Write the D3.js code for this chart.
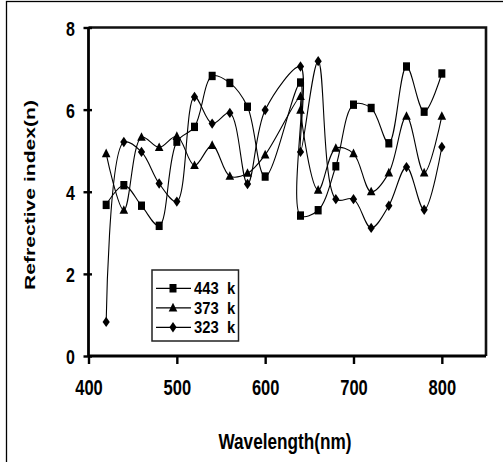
<!DOCTYPE html>
<html>
<head>
<meta charset="utf-8">
<script src="https://cdn.jsdelivr.net/npm/d3@7"></script>
<style>
  html, body { margin: 0; padding: 0; background: #fff; }
  svg { display: block; }
  text { font-family: "Liberation Sans", Arial, sans-serif; font-weight: bold; fill: #000; }
  .legend-label { white-space: pre; }
</style>
</head>
<body>
<svg id="chart" width="503" height="462"></svg>
<script>
// Wavelength (nm) of each measurement; 640 nm is measured twice
const wavelength = [420, 440, 460, 480, 500, 520, 540, 560, 580, 600, 640, 640, 660, 680, 700, 720, 740, 760, 780, 800];
// Refractive index at each annealing temperature
const n443 = [3.68, 4.16, 3.66, 3.17, 5.22, 5.58, 6.82, 6.65, 6.07, 4.37, 6.66, 3.42, 3.55, 4.62, 6.12, 6.04, 5.18, 7.05, 5.95, 6.88];
const n373 = [4.93, 3.55, 5.33, 5.08, 5.35, 4.64, 5.13, 4.38, 4.45, 4.90, 6.32, 5.99, 4.04, 5.06, 4.93, 4.00, 4.46, 5.84, 4.46, 5.84];
const n323 = [0.83, 5.21, 4.97, 4.20, 3.76, 6.31, 5.66, 5.92, 4.19, 5.99, 7.05, 4.97, 7.18, 3.82, 3.82, 3.12, 3.66, 4.60, 3.56, 5.09];
const seriesNames = ["443  k", "373  k", "323  k"];
const xTicks = [400, 500, 600, 700, 800];
const yTicks = [0, 2, 4, 6, 8];

const svg = d3.select("#chart");
const SY = 1.32; // vertical stretch applied to horizontal text

// outer frame
svg.append("rect").attr("x", 6.5).attr("y", 1.5).attr("width", 600).attr("height", 600)
  .attr("fill", "none").attr("stroke", "#000").attr("stroke-width", 1.3);

const L = 88.5, R = 486, T = 27.5, B = 356;
const x = d3.scaleLinear().domain([400, 850]).range([L, R]);
const y = d3.scaleLinear().domain([0, 8]).range([B, T]);

// plot frame (top and right edges)
svg.append("path")
  .attr("d", `M${L},${T}H${R}V${B}`)
  .attr("fill", "none").attr("stroke", "#111").attr("stroke-width", 2.6);

// x axis
const gx = svg.append("g").attr("transform", `translate(0,${B})`)
  .call(d3.axisBottom(x).tickValues(xTicks).tickSize(8).tickFormat(d3.format("d")));
gx.select(".domain").attr("stroke", "#000").attr("stroke-width", 2.8).attr("d", `M${L},0H${R}`);
gx.selectAll(".tick line").attr("stroke", "#000").attr("stroke-width", 2.4);
gx.selectAll(".tick text")
  .attr("y", null).attr("dy", null)
  .attr("transform", `translate(0,39) scale(1,${SY})`)
  .attr("font-size", 16.5).attr("text-anchor", "middle");

// y axis with ticks crossing the axis line
const gy = svg.append("g").attr("transform", `translate(${L},0)`)
  .call(d3.axisLeft(y).tickValues(yTicks).tickSize(5).tickFormat(d3.format("d")));
gy.select(".domain").attr("stroke", "#000").attr("stroke-width", 2.8).attr("d", `M0,${T}V${B}`);
gy.selectAll(".tick line").attr("x1", 3.5).attr("stroke", "#000").attr("stroke-width", 2.4);
gy.selectAll(".tick text")
  .attr("x", null).attr("dy", null)
  .attr("transform", `translate(-13.5,7.5) scale(1,${SY - 0.08})`)
  .attr("font-size", 16).attr("text-anchor", "end");

// axis titles
svg.append("text").text("Wavelength(nm)")
  .attr("transform", `translate(285,449) scale(1,1.3)`)
  .attr("font-size", 17.2).attr("text-anchor", "middle");
svg.append("text").text("Refrective index(n)")
  .attr("transform", `translate(35,195) rotate(-90) scale(1.37,1)`)
  .attr("font-size", 15.4).attr("text-anchor", "middle");

// marker shapes
const markers = {
  square:   "M-3.5,-4.2H3.5V4.2H-3.5Z",
  triangle: "M0,-5L4.3,3.6H-4.3Z",
  diamond:  "M0,-5.2L3.6,0L0,5.2L-3.6,0Z"
};
const seriesData = [
  { name: seriesNames[0], values: n443, marker: markers.square },
  { name: seriesNames[1], values: n373, marker: markers.triangle },
  { name: seriesNames[2], values: n323, marker: markers.diamond }
];

const line = d3.line()
  .x(d => x(d[0])).y(d => y(d[1]))
  .curve(d3.curveCatmullRom.alpha(0.5));

seriesData.forEach(s => {
  const pts = wavelength.map((w, i) => [w, s.values[i]]);
  const g = svg.append("g");
  g.append("path").datum(pts).attr("d", line)
    .attr("fill", "none").attr("stroke", "#000").attr("stroke-width", 1.1);
  g.selectAll("path.m").data(pts).join("path").attr("class", "m")
    .attr("d", s.marker)
    .attr("transform", d => `translate(${x(d[0])},${y(d[1])})`)
    .attr("fill", "#000");
});

// legend
const lg = svg.append("g");
const lx = 152, ly = 270, lw = 86.5, lh = 71;
svg.append("clipPath").attr("id", "legclip")
  .append("rect").attr("x", lx).attr("y", ly).attr("width", lw).attr("height", lh);
lg.append("rect").attr("x", lx).attr("y", ly).attr("width", lw).attr("height", lh)
  .attr("fill", "#fff");
const rows = lg.append("g").attr("clip-path", "url(#legclip)");
seriesData.forEach((s, i) => {
  const ry = 288.3 + i * 19.5;
  rows.append("line").attr("x1", 156).attr("x2", 191).attr("y1", ry).attr("y2", ry)
    .attr("stroke", "#000").attr("stroke-width", 1.2);
  rows.append("path").attr("d", s.marker).attr("transform", `translate(173,${ry})`).attr("fill", "#000");
  rows.append("text").attr("class", "legend-label")
    .attr("transform", `translate(194,${ry + 6}) scale(1,1.15)`)
    .attr("font-size", 14.8)
    .text(s.name);
});
lg.append("rect").attr("x", lx).attr("y", ly).attr("width", lw).attr("height", lh)
  .attr("fill", "none").attr("stroke", "#222").attr("stroke-width", 1.5);
</script>
</body>
</html>
